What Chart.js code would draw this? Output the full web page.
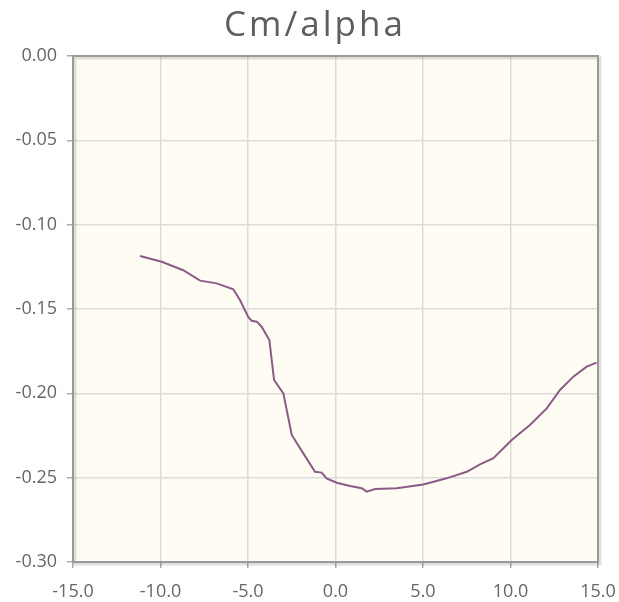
<!DOCTYPE html>
<html>
<head>
<meta charset="utf-8">
<script src="https://cdn.jsdelivr.net/npm/chart.js@4"></script>
<style>
  html, body { margin: 0; padding: 0; background: #fff; }
  #wrap { width: 619px; height: 602px; }
</style>
</head>
<body>
<div id="wrap"><canvas id="cmChart" width="619" height="602"></canvas></div>
<script>
const chartTitle = 'Cm/alpha';
const alphaValues = [-11.17, -9.93, -8.70, -7.74, -6.79, -5.84, -5.46, -4.98, -4.79, -4.50, -4.22, -3.78, -3.51, -2.98, -2.50,
  -1.84, -1.17, -0.79, -0.51, 0.07, 0.83, 1.50, 1.78, 2.26, 3.50, 5.02, 6.35, 7.50, 8.26, 9.02, 10.07, 11.11, 12.07, 12.83, 13.59, 14.35, 14.92];
const cmValues = [-0.1186, -0.1220, -0.1270, -0.1332, -0.1348, -0.1383, -0.1447, -0.1549, -0.1570, -0.1575, -0.1605, -0.1684, -0.1921, -0.2000, -0.2247,
  -0.2356, -0.2465, -0.2470, -0.2504, -0.2530, -0.2549, -0.2563, -0.2583, -0.2567, -0.2563, -0.2540, -0.2504, -0.2465, -0.2421, -0.2385, -0.2277, -0.2188, -0.2089, -0.1980, -0.1901, -0.1842, -0.1818];
const xTicks = [-15, -10, -5, 0, 5, 10, 15];
const yTicks = [0, -0.05, -0.10, -0.15, -0.20, -0.25, -0.30];

const points = alphaValues.map((a, i) => ({ x: a, y: cmValues[i] }));

// background, framed plot box and title
const plotFrame = {
  id: 'plotFrame',
  beforeDraw(chart) {
    const { ctx, chartArea: a } = chart;
    ctx.save();
    ctx.fillStyle = '#fffcf3';
    ctx.fillRect(a.left, a.top, a.right - a.left, a.bottom - a.top);
    ctx.restore();
  },
  afterDatasetsDraw(chart) {
    const { ctx, chartArea: a } = chart;
    ctx.save();
    ctx.strokeStyle = 'rgba(0,0,0,0.12)';
    ctx.lineWidth = 3;
    ctx.strokeRect(a.left + 2, a.top + 2, a.right - a.left, a.bottom - a.top);
    ctx.strokeStyle = '#9a9a9a';
    ctx.lineWidth = 2;
    ctx.strokeRect(a.left, a.top, a.right - a.left, a.bottom - a.top);
    ctx.restore();
  },
  afterDraw(chart) {
    const ctx = chart.ctx;
    ctx.save();
    ctx.font = '35px "Open Sans"';
    ctx.letterSpacing = '3px';
    ctx.fillStyle = '#5e5e5e';
    ctx.textAlign = 'left';
    ctx.textBaseline = 'alphabetic';
    const w = ctx.measureText(chartTitle).width - 3;
    ctx.fillText(chartTitle, 313.5 - w / 2, 36);
    ctx.restore();
  }
};

new Chart(document.getElementById('cmChart').getContext('2d'), {
  type: 'scatter',
  data: {
    datasets: [{
      data: points,
      showLine: true,
      borderColor: '#8c5a88',
      borderWidth: 2,
      pointRadius: 0,
      tension: 0
    }]
  },
  options: {
    responsive: false,
    animation: false,
    layout: { padding: { left: 0, right: 21, top: 56, bottom: 0 } },
    plugins: {
      legend: { display: false },
      tooltip: { enabled: false },
      title: { display: false }
    },
    scales: {
      x: {
        type: 'linear',
        min: -15,
        max: 15,
        afterBuildTicks: (s) => { s.ticks = xTicks.map(v => ({ value: v })); },
        afterFit: (s) => { s.height = 40; s.paddingLeft = 0; s.paddingRight = 0; },
        ticks: {
          color: '#666',
          font: { family: 'Open Sans', size: 18 },
          padding: 13,
          maxRotation: 0,
          callback: (v) => Number(v).toFixed(1)
        },
        grid: { color: '#dcdcdc', lineWidth: 1.5, tickColor: '#aaa', tickLength: 6 },
        border: { display: true, color: '#9a9a9a', width: 2 }
      },
      y: {
        type: 'linear',
        min: -0.3,
        max: 0,
        afterBuildTicks: (s) => { s.ticks = yTicks.map(v => ({ value: v })); },
        afterFit: (s) => { s.width = 73; s.paddingTop = 0; s.paddingBottom = 0; },
        ticks: {
          color: '#666',
          font: { family: 'Open Sans', size: 18 },
          padding: 10,
          callback: (v) => Number(v).toFixed(2)
        },
        grid: { color: '#dcdcdc', lineWidth: 1.5, tickColor: '#aaa', tickLength: 6 },
        border: { display: true, color: '#9a9a9a', width: 2 }
      }
    }
  },
  plugins: [plotFrame]
});
</script>
</body>
</html>
